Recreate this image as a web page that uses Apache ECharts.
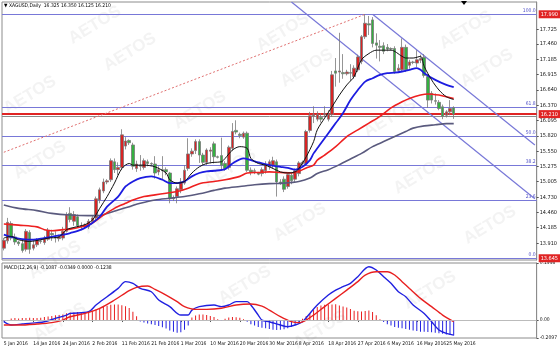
<!DOCTYPE html>
<html>
<head>
<meta charset="utf-8">
<script src="https://cdn.jsdelivr.net/npm/echarts@6/dist/echarts.min.js"></script>
<style>
html, body { margin: 0; padding: 0; background: #fff; }
#chart { width: 560px; height: 351px; }
</style>
</head>
<body>
<div id="chart"></div>
<script>
// XAGUSD daily, 5 Jan - 27 May 2016 (Sun-Fri bars like the broker feed)
var firstDay = '2016-01-05';
var skipDays = ['25 Mar 2016'];
var slotCount = 145;            // bars + empty space on the right
var monthNames = ['Jan','Feb','Mar','Apr','May','Jun','Jul','Aug','Sep','Oct','Nov','Dec'];

// [open, close, low, high]
var candles = [
  [13.82,13.96,13.78,14.00],[13.95,14.28,13.90,14.36],[14.26,14.00,13.96,14.30],[14.02,13.93,13.88,14.08],
  [13.93,13.90,13.86,13.95],[13.90,13.78,13.74,13.96],[13.80,14.12,13.76,14.16],[14.10,13.80,13.72,14.14],
  [13.82,13.88,13.78,13.95],[13.88,13.96,13.84,14.00],[13.95,13.94,13.90,13.98],[13.92,14.00,13.88,14.04],
  [13.98,14.14,13.95,14.18],[14.08,14.06,13.95,14.15],[14.02,14.00,13.92,14.12],[13.99,14.02,13.94,14.06],
  [14.00,14.12,13.96,14.20],[14.12,14.42,14.10,14.46],[14.44,14.33,14.28,14.55],[14.30,14.42,14.22,14.48],
  [14.38,14.22,14.18,14.42],[14.22,14.20,14.14,14.28],[14.20,14.23,14.17,14.26],[14.20,14.30,14.16,14.34],
  [14.30,14.36,14.26,14.40],[14.36,14.70,14.32,14.74],[14.68,14.86,14.62,14.90],[14.84,15.00,14.80,15.06],
  [15.00,15.02,14.96,15.05],[15.04,15.38,15.00,15.42],[15.36,15.22,15.16,15.42],[15.22,15.26,15.12,15.35],
  [15.26,15.84,15.22,15.94],[15.64,15.73,15.58,15.80],[15.74,15.70,15.66,15.76],[15.66,15.28,15.22,15.70],
  [15.24,15.32,15.18,15.38],[15.30,15.28,15.20,15.48],[15.26,15.38,15.22,15.42],[15.36,15.33,15.28,15.40],
  [15.33,15.32,15.30,15.35],[15.32,15.16,15.06,15.46],[15.18,15.22,15.12,15.28],[15.22,15.20,15.05,15.46],
  [15.22,15.18,15.12,15.26],[15.16,14.70,14.62,15.18],[14.72,14.70,14.66,14.76],[14.74,14.88,14.62,14.92],
  [14.86,15.00,14.80,15.07],[14.98,15.21,14.95,15.30],[15.24,15.50,15.20,15.78],[15.50,15.55,15.45,15.60],
  [15.56,15.72,15.50,15.76],[15.72,15.48,15.34,15.76],[15.48,15.35,15.30,15.52],[15.35,15.57,15.30,15.60],
  [15.55,15.57,15.33,15.62],[15.68,15.45,15.33,15.72],[15.45,15.44,15.42,15.47],[15.47,15.30,15.20,15.79],
  [15.33,15.24,15.20,15.37],[15.26,15.62,15.22,15.65],[15.60,15.90,15.55,16.05],[15.92,15.89,15.85,16.10],
  [15.85,15.83,15.78,15.88],[15.80,15.87,15.77,15.90],[15.87,15.21,15.18,15.90],[15.21,15.18,15.12,15.26],
  [15.20,15.19,15.14,15.24],[15.16,15.14,15.12,15.18],[15.15,15.22,15.10,15.26],[15.20,15.30,15.15,15.37],
  [15.27,15.36,15.22,15.40],[15.30,15.38,15.24,15.45],[15.36,15.00,14.74,15.40],[15.00,14.98,14.95,15.05],
  [15.05,14.87,14.82,15.10],[14.92,15.13,14.88,15.15],[15.12,15.02,14.96,15.18],[15.05,15.20,15.00,15.24],
  [15.15,15.34,15.10,15.37],[15.33,15.35,15.30,15.38],[15.33,15.90,15.30,15.93],[15.92,16.18,15.88,16.25],
  [16.18,16.20,16.05,16.35],[16.12,16.20,16.08,16.26],[16.15,16.12,16.06,16.22],[16.20,16.22,16.16,16.35],
  [16.12,16.20,16.08,16.28],[16.20,16.91,16.16,16.98],[16.98,16.94,16.70,17.21],[16.96,16.98,16.77,17.66],
  [16.95,16.93,16.84,17.28],[16.93,16.96,16.90,17.00],[16.95,16.94,16.80,17.10],[16.88,17.03,16.84,17.08],
  [17.00,17.23,16.96,17.27],[17.15,17.59,17.10,17.62],[17.59,17.83,17.55,17.99],[17.82,17.80,17.62,17.96],
  [17.89,17.47,17.40,17.94],[17.48,17.44,17.20,17.65],[17.42,17.40,17.15,17.53],[17.43,17.33,17.28,17.49],
  [17.40,17.37,17.33,17.46],[17.38,17.37,17.35,17.40],[17.38,16.97,16.93,17.42],[16.99,17.03,16.95,17.10],
  [17.00,17.40,16.98,17.56],[17.40,17.00,16.96,17.45],[17.08,17.14,17.02,17.18],[17.14,17.13,17.10,17.16],
  [17.12,17.18,17.05,17.35],[17.17,17.20,17.12,17.27],[17.22,16.90,16.86,17.28],[16.88,16.46,16.32,16.92],
  [16.58,16.46,16.40,16.62],[16.45,16.44,16.38,16.58],[16.42,16.31,16.28,16.46],[16.34,16.17,16.12,16.38],
  [16.19,16.25,16.15,16.28],[16.25,16.31,16.19,16.46],[16.325,16.21,16.125,16.35]
];

// moving averages: [bar index, price]
var maFast = [[0,14.00],[2,14.03],[4,13.97],[7,13.94],[10,13.97],[12,14.00],[15,14.02],[17,14.15],[19,14.19],
  [22,14.24],[24,14.32],[26,14.53],[28,14.74],[30,14.98],[32,15.24],[34,15.33],[35,15.30],[38,15.30],[41,15.27],
  [44,15.16],[45,15.04],[47,14.98],[49,15.01],[51,15.16],[53,15.27],[55,15.33],[57,15.35],[59,15.36],[60,15.42],
  [62,15.57],[64,15.63],[66,15.60],[67,15.42],[69,15.33],[71,15.30],[73,15.24],[75,15.18],[77,15.16],[79,15.18],
  [80,15.24],[82,15.45],[84,15.72],[85,15.93],[87,16.14],[89,16.34],[91,16.55],[93,16.73],[95,16.88],[97,17.18],
  [99,17.29],[101,17.35],[103,17.35],[105,17.35],[108,17.24],[109,17.21],[111,17.21],[113,17.24],[114,17.06],
  [116,16.82],[118,16.64],[120,16.52],[122,16.47]];
var maMid = [[0,14.06],[2,14.02],[5,13.98],[8,13.97],[11,14.00],[13,14.02],[16,14.06],[18,14.09],[21,14.15],
  [24,14.27],[26,14.38],[28,14.56],[31,14.74],[33,14.92],[35,15.01],[37,15.07],[40,15.10],[43,15.04],[45,14.98],
  [47,14.98],[49,15.01],[51,15.10],[53,15.16],[55,15.19],[57,15.20],[60,15.23],[62,15.33],[65,15.42],[67,15.39],
  [69,15.35],[72,15.30],[75,15.27],[77,15.25],[79,15.22],[81,15.27],[83,15.39],[84,15.51],[86,15.69],[88,15.87],
  [90,16.05],[92,16.23],[94,16.46],[96,16.64],[98,16.79],[100,16.85],[102,16.91],[104,16.94],[106,16.95],
  [108,16.97],[110,17.00],[112,17.03],[113,17.00],[114,16.94],[117,16.82],[120,16.73],[122,16.69]];
var maSlow = [[0,14.25],[4,14.23],[9,14.20],[11,14.15],[13,14.13],[16,14.15],[18,14.16],[21,14.20],[24,14.27],
  [27,14.41],[30,14.53],[33,14.62],[35,14.68],[38,14.74],[41,14.77],[44,14.80],[47,14.83],[50,14.89],[53,14.97],
  [57,15.01],[60,15.04],[64,15.10],[66,15.16],[69,15.17],[72,15.18],[75,15.17],[78,15.16],[80,15.19],[82,15.25],
  [84,15.30],[85,15.39],[87,15.48],[90,15.63],[93,15.81],[96,15.93],[99,16.05],[102,16.17],[105,16.32],
  [108,16.43],[110,16.49],[113,16.55],[115,16.57],[118,16.55],[120,16.52],[122,16.49]];
var maLong = [[0,14.59],[4,14.53],[9,14.49],[13,14.44],[18,14.41],[23,14.40],[26,14.40],[28,14.44],[31,14.50],
  [34,14.56],[37,14.62],[41,14.68],[45,14.71],[49,14.74],[53,14.79],[57,14.85],[60,14.89],[64,14.92],[68,14.95],
  [72,14.97],[76,14.98],[80,15.01],[83,15.07],[85,15.15],[88,15.22],[91,15.31],[94,15.41],[97,15.51],[100,15.63],
  [103,15.72],[106,15.81],[109,15.90],[111,15.96],[114,16.00],[117,16.02],[120,16.04],[122,16.04]];

// fibonacci retracement 13.645 -> 17.990
var fibPrices = [17.990, 16.330, 15.8175, 15.305, 14.670, 13.645];
var fibNames = ['100.0', '61.8', '50.0', '38.2', '23.6', '0.0'];
var fibDiagonal = [[0, 15.53], [98, 17.99]];
var channelUpper = [[100, 17.99], [144, 15.66]];
var channelLower = [[78, 18.21], [144, 14.70]];
var lastPrice = 16.210;
var bidLine = 16.175;

var priceTicks = [13.910, 14.185, 14.460, 14.730, 15.005, 15.275, 15.550, 15.820, 16.095,
  16.370, 16.640, 16.915, 17.185, 17.460, 17.725];
var priceTags = [17.990, 16.210, 13.645];

// MACD(12,26,9)
var macdLine = [[0,-0.012],[2,-0.036],[5,-0.029],[9,-0.019],[11,-0.012],[14,0.012],[17,0.036],[18,0.048],
  [23,0.060],[25,0.109],[28,0.169],[31,0.229],[33,0.278],[35,0.266],[37,0.229],[40,0.205],[42,0.145],[45,0.097],
  [48,0.036],[50,0.036],[51,0.072],[53,0.097],[57,0.109],[59,0.097],[61,0.109],[63,0.133],[66,0.133],[67,0.109],
  [69,0.036],[70,0.000],[72,-0.012],[75,-0.036],[77,-0.048],[79,-0.036],[81,-0.012],[83,0.048],[85,0.109],
  [88,0.181],[90,0.217],[92,0.242],[94,0.266],[96,0.314],[99,0.386],[101,0.362],[103,0.314],[105,0.266],
  [107,0.205],[109,0.169],[111,0.109],[114,0.048],[116,-0.012],[118,-0.072],[120,-0.097],[122,-0.109]];
var macdSignal = [[0,-0.036],[4,-0.036],[9,-0.029],[13,-0.019],[16,0.000],[18,0.024],[22,0.048],[26,0.085],
  [30,0.145],[34,0.213],[36,0.237],[39,0.246],[41,0.222],[44,0.181],[47,0.133],[49,0.097],[52,0.077],[55,0.077],
  [59,0.085],[63,0.109],[67,0.116],[70,0.101],[72,0.072],[75,0.024],[78,-0.012],[80,-0.019],[82,0.000],
  [84,0.036],[87,0.097],[90,0.157],[93,0.217],[96,0.278],[98,0.326],[101,0.350],[104,0.350],[106,0.326],
  [108,0.278],[110,0.229],[113,0.157],[116,0.097],[119,0.036],[122,-0.012]];
var macdHist = [-0.010,-0.006,0.012,0.014,0.012,0.015,0.014,0.016,0.015,0.014,0.016,0.022,0.026,0.030,0.034,
  0.036,0.040,0.050,0.055,0.055,0.058,0.055,0.058,0.062,0.068,0.076,0.088,0.098,0.104,0.110,0.112,0.112,0.108,
  0.100,0.088,0.060,0.028,-0.010,-0.018,-0.025,-0.030,-0.036,-0.044,-0.052,-0.062,-0.075,-0.085,-0.092,-0.088,
  -0.070,-0.040,0.018,0.032,0.040,0.040,0.036,0.030,0.022,0.006,-0.004,0.010,0.018,0.022,0.020,0.016,0.006,
  -0.012,-0.030,-0.040,-0.050,-0.056,-0.060,-0.065,-0.070,-0.072,-0.070,-0.066,-0.060,-0.050,-0.036,-0.020,
  0.010,0.030,0.048,0.072,0.095,0.105,0.110,0.112,0.112,0.114,0.106,0.098,0.090,0.080,0.068,0.063,0.062,0.065,
  0.070,0.058,0.035,0.006,-0.015,-0.030,-0.040,-0.050,-0.055,-0.060,-0.065,-0.070,-0.075,-0.080,-0.085,-0.085,
  -0.086,-0.088,-0.092,-0.096,-0.100,-0.104,-0.108,-0.112];
var macdTickValues = [0.413, 0, -0.13];
var macdTickLabels = ['0.1998', '0.00', '-0.2097'];

var headerText = '\u25BC XAGUSD,Daily  16.325 16.350 16.125 16.210';
var macdHeader = 'MACD(12,26,9) -0.1087 -0.0349 0.0000 -0.1238';

// category list: every calendar day except Saturdays
var dates = [];
for (var d = new Date(firstDay + 'T00:00:00Z'); dates.length < slotCount; d.setUTCDate(d.getUTCDate() + 1)) {
  if (d.getUTCDay() === 6) continue;
  var s = d.getUTCDate() + ' ' + monthNames[d.getUTCMonth()] + ' ' + d.getUTCFullYear();
  if (skipDays.indexOf(s) >= 0) continue;
  dates.push(s);
}

var narrow = "'Liberation Sans Narrow','DejaVu Sans Condensed','Liberation Sans',sans-serif";
var fibColor = '#7878d8';
var tagRed = '#e02424';

function labelShown(i) { return i % 8 === 0 && i <= 120; }

function nearestLabel(v, values, labels) {
  var best = 0;
  for (var i = 1; i < values.length; i++) {
    if (Math.abs(values[i] - v) < Math.abs(values[best] - v)) best = i;
  }
  return labels[best];
}

var fibMarks = fibPrices.map(function (p, i) {
  return {
    yAxis: p,
    lineStyle: { color: fibColor, width: 1.2, type: 'solid' },
    label: { show: true, position: 'insideEndTop', formatter: fibNames[i], color: '#5050c8',
      fontSize: 5, fontFamily: narrow, distance: 1 }
  };
});
var tagMarks = priceTags.map(function (p) {
  var isLast = p === lastPrice;
  return {
    yAxis: p,
    lineStyle: { color: isLast ? tagRed : 'rgba(0,0,0,0)', width: isLast ? 2.2 : 1, type: 'solid' },
    label: { show: true, position: 'end', formatter: p.toFixed(3), color: '#fff', backgroundColor: tagRed,
      fontSize: 5.5, fontFamily: narrow, padding: [1, 2, 1, 2], distance: 2 }
  };
});
var bidMark = {
  yAxis: bidLine,
  lineStyle: { color: '#8a8a8a', width: 1, type: 'solid' },
  label: { show: false }
};

// watermark spots (decoration)
var watermarkSpots = [[95,25],[283,32],[466,30],[130,52],[307,68],[487,68],[30,95],[200,110],[390,118],
  [40,160],[230,168],[420,175],[110,215],[300,222],[490,225],[55,260],[245,285],[430,290],[60,322],[320,330]];
var watermarks = watermarkSpots.map(function (p) {
  return {
    type: 'text', x: p[0], y: p[1], rotation: 0.55, z: 0,
    style: { text: 'AETOS', fill: 'rgba(120,120,120,0.09)', font: 'bold 17px "Liberation Sans", sans-serif',
      align: 'center', verticalAlign: 'middle' }
  };
});

var chart = echarts.init(document.getElementById('chart'));
chart.setOption({
  animation: false,
  backgroundColor: '#ffffff',
  graphic: watermarks.concat([
    { type: 'text', x: 4, y: 3, z: 50, style: { text: headerText, fill: '#000', font: '5px ' + narrow } },
    { type: 'text', x: 4, y: 265, z: 50, style: { text: macdHeader, fill: '#000', font: '5px ' + narrow } },
    { type: 'polygon', z: 50, shape: { points: [[461, 1], [467, 1], [464, 5]] }, style: { fill: '#000' } }
  ]),
  grid: [
    { left: 2, right: 19, top: 2, height: 258, show: true, borderColor: '#8c8c8c', borderWidth: 1 },
    { left: 2, right: 19, top: 263, height: 75, show: true, borderColor: '#8c8c8c', borderWidth: 1 }
  ],
  xAxis: [
    { type: 'category', gridIndex: 0, data: dates, boundaryGap: true, show: false },
    { type: 'category', gridIndex: 1, data: dates, boundaryGap: true,
      axisLine: { show: true, lineStyle: { color: '#8c8c8c' } },
      axisTick: { show: true, interval: labelShown, alignWithLabel: true, length: 2, lineStyle: { color: '#555' } },
      axisLabel: { interval: labelShown, align: 'left', fontSize: 5, fontFamily: narrow, color: '#111', margin: 3 },
      splitLine: { show: false } }
  ],
  yAxis: [
    { type: 'value', gridIndex: 0, position: 'right', min: 13.609, max: 18.209, scale: true,
      splitLine: { show: false },
      axisLine: { show: true, lineStyle: { color: '#8c8c8c' } },
      axisTick: { show: true, length: 2, customValues: priceTicks, lineStyle: { color: '#555' } },
      axisLabel: { customValues: priceTicks, formatter: function (v) { return v.toFixed(3); },
        fontSize: 5.5, fontFamily: narrow, color: '#111', margin: 3 } },
    { type: 'value', gridIndex: 1, position: 'right', min: -0.13, max: 0.413,
      splitLine: { show: false },
      axisLine: { show: true, lineStyle: { color: '#8c8c8c' } },
      axisTick: { show: true, length: 2, customValues: macdTickValues, lineStyle: { color: '#555' } },
      axisLabel: { customValues: macdTickValues,
        formatter: function (v) { return nearestLabel(v, macdTickValues, macdTickLabels); },
        fontSize: 5, fontFamily: narrow, color: '#111', margin: 3 } }
  ],
  series: [
    { type: 'candlestick', xAxisIndex: 0, yAxisIndex: 0, data: candles, barWidth: 3, z: 3,
      itemStyle: { color: '#d82424', color0: '#34b040', borderColor: '#7a7a7a', borderColor0: '#7a7a7a', borderWidth: 0.8 },
      markLine: { silent: true, symbol: 'none', animation: false, z: 1,
        data: fibMarks.concat([bidMark]).concat(tagMarks) } },
    { type: 'line', name: 'gray', xAxisIndex: 0, yAxisIndex: 0, data: maLong, symbol: 'none', smooth: 0.3, z: 4,
      lineStyle: { color: '#5a5a7e', width: 1.6 } },
    { type: 'line', name: 'red', xAxisIndex: 0, yAxisIndex: 0, data: maSlow, symbol: 'none', smooth: 0.3, z: 4,
      lineStyle: { color: '#ee2020', width: 1.6 } },
    { type: 'line', name: 'blue', xAxisIndex: 0, yAxisIndex: 0, data: maMid, symbol: 'none', smooth: 0.3, z: 4,
      lineStyle: { color: '#1c1ce0', width: 1.8 } },
    { type: 'line', name: 'black', xAxisIndex: 0, yAxisIndex: 0, data: maFast, symbol: 'none', smooth: 0.3, z: 5,
      lineStyle: { color: '#111', width: 1 } },
    { type: 'line', xAxisIndex: 0, yAxisIndex: 0, data: fibDiagonal, symbol: 'none', z: 2,
      lineStyle: { color: '#e07070', width: 1, type: [2, 2] } },
    { type: 'line', xAxisIndex: 0, yAxisIndex: 0, data: channelUpper, symbol: 'none', z: 2,
      lineStyle: { color: fibColor, width: 1.2 } },
    { type: 'line', xAxisIndex: 0, yAxisIndex: 0, data: channelLower, symbol: 'none', z: 2,
      lineStyle: { color: fibColor, width: 1.2 } },
    { type: 'bar', xAxisIndex: 1, yAxisIndex: 1, data: macdHist, barWidth: 1, z: 2,
      itemStyle: { color: function (p) { return p.value >= 0 ? '#e82020' : '#2020e0'; } },
      markLine: { silent: true, symbol: 'none', animation: false,
        data: [{ yAxis: 0, lineStyle: { color: '#c8c8c8', width: 0.8, type: 'solid' }, label: { show: false } }] } },
    { type: 'line', xAxisIndex: 1, yAxisIndex: 1, data: macdLine, symbol: 'none', smooth: 0.3, z: 4,
      lineStyle: { color: '#2020e0', width: 1.4 } },
    { type: 'line', xAxisIndex: 1, yAxisIndex: 1, data: macdSignal, symbol: 'none', smooth: 0.3, z: 4,
      lineStyle: { color: '#e82020', width: 1.4 } }
  ]
});
</script>
</body>
</html>
